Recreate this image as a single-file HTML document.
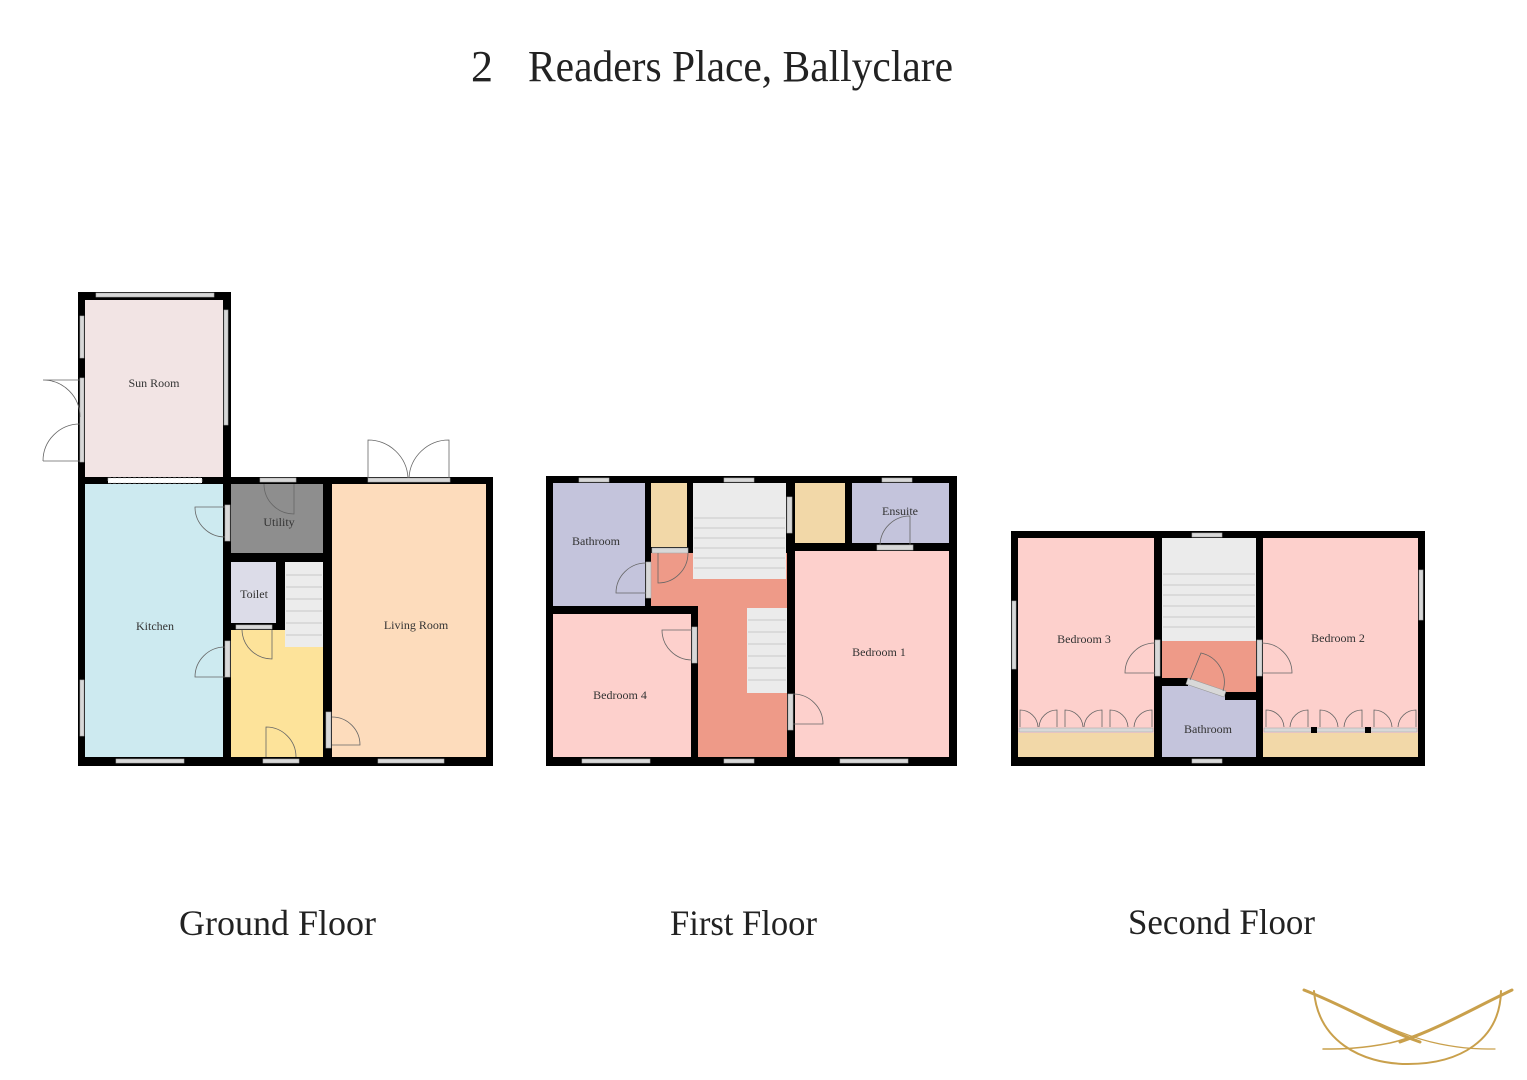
<!DOCTYPE html>
<html><head><meta charset="utf-8"><style>
html,body{margin:0;padding:0;background:#fff;width:1527px;height:1080px;overflow:hidden}
svg{display:block}
text{font-family:"Liberation Serif",serif;fill:#222}
.rl{font-size:12px;fill:#333;text-anchor:middle}
.w{fill:#d8d8d8;stroke:#aaa;stroke-width:0.6}
.d{fill:none;stroke:#666;stroke-width:0.8}
.st{stroke:#c8c8c8;stroke-width:1}
</style></head><body>
<svg width="1527" height="1080" viewBox="0 0 1527 1080" xmlns="http://www.w3.org/2000/svg">
<text x="471" y="81" font-size="44" textLength="22" lengthAdjust="spacingAndGlyphs">2</text>
<text x="528" y="81" font-size="44" textLength="425" lengthAdjust="spacingAndGlyphs">Readers Place, Ballyclare</text>

<!-- ================= GROUND FLOOR ================= -->
<rect x="78" y="292" width="153" height="192" fill="#000"/>
<rect x="78" y="477" width="415" height="289" fill="#000"/>
<rect x="85" y="300" width="138" height="177" fill="#f2e4e4"/>
<rect x="85" y="484" width="138" height="273" fill="#cdeaf0"/>
<rect x="231" y="484" width="92" height="69" fill="#8e8e8e"/>
<rect x="231" y="562" width="45" height="61" fill="#dcdce8"/>
<rect x="231" y="630" width="92" height="127" fill="#fde39a"/>
<rect x="285" y="562" width="38" height="85" fill="#ececec"/>
<g class="st"><line x1="286" y1="575" x2="322" y2="575"/><line x1="286" y1="587" x2="322" y2="587"/><line x1="286" y1="599" x2="322" y2="599"/><line x1="286" y1="611" x2="322" y2="611"/><line x1="286" y1="623" x2="322" y2="623"/><line x1="286" y1="635" x2="322" y2="635"/></g>
<rect x="332" y="484" width="154" height="273" fill="#fddcbc"/>
<!-- windows -->
<rect class="w" x="96" y="293" width="118" height="4"/>
<rect class="w" x="224" y="310" width="4" height="115"/>
<rect class="w" x="80" y="316" width="4" height="42"/>
<rect class="w" x="80" y="378" width="4" height="84"/>
<rect x="108" y="478" width="94" height="5" fill="#fff" stroke="#bbb" stroke-width="0.6" stroke-dasharray="3,2"/>
<rect class="w" x="80" y="680" width="4" height="56"/>
<rect class="w" x="116" y="759" width="68" height="4"/>
<rect class="w" x="263" y="759" width="36" height="4"/>
<rect class="w" x="378" y="759" width="66" height="4"/>
<rect class="w" x="368" y="478" width="82" height="4"/>
<rect class="w" x="260" y="478" width="36" height="4"/>
<rect class="w" x="225" y="505" width="5" height="36"/>
<rect class="w" x="225" y="641" width="5" height="36"/>
<rect class="w" x="326" y="712" width="5" height="36"/>
<rect class="w" x="236" y="625" width="36" height="4"/>
<!-- doors -->
<path class="d" d="M43 380 A37 37 0 0 1 80 417 M43 380 L80 380 M43 461 A37 37 0 0 1 80 424 M43 461 L80 461"/>
<path class="d" d="M368 478 L368 440 A40 40 0 0 1 408 478 M449 478 L449 440 A40 40 0 0 0 409 478"/>
<path class="d" d="M294 484 L294 514 A30 30 0 0 1 264 484"/>
<path class="d" d="M225 507 L195 507 A30 30 0 0 0 225 537"/>
<path class="d" d="M225 677 L195 677 A30 30 0 0 1 225 647"/>
<path class="d" d="M272 630 L272 659 A30 30 0 0 1 242 630"/>
<path class="d" d="M266 757 L266 727 A30 30 0 0 1 296 757"/>
<path class="d" d="M332 745 L360 745 A28 28 0 0 0 332 717"/>
<text class="rl" x="154" y="387">Sun Room</text>
<text class="rl" x="155" y="630">Kitchen</text>
<text class="rl" x="279" y="526">Utility</text>
<text class="rl" x="254" y="598">Toilet</text>
<text class="rl" x="416" y="629">Living Room</text>

<!-- ================= FIRST FLOOR ================= -->
<rect x="546" y="476" width="411" height="290" fill="#000"/>
<rect x="553" y="483" width="92" height="123" fill="#c4c4dc"/>
<rect x="651" y="483" width="36" height="64" fill="#f2d8a8"/>
<rect x="693" y="483" width="93" height="96" fill="#ebebeb"/>
<rect x="795" y="483" width="50" height="60" fill="#f2d8a8"/>
<rect x="852" y="483" width="97" height="60" fill="#c4c4dc"/>
<rect x="651" y="553" width="136" height="53" fill="#ee9a88"/>
<rect x="693" y="483" width="93" height="96" fill="#ebebeb"/>
<rect x="698" y="606" width="89" height="151" fill="#ee9a88"/>
<rect x="747" y="608" width="40" height="85" fill="#ebebeb"/>
<g class="st"><line x1="694" y1="518" x2="785" y2="518"/><line x1="694" y1="528" x2="785" y2="528"/><line x1="694" y1="538" x2="785" y2="538"/><line x1="694" y1="548" x2="785" y2="548"/><line x1="694" y1="558" x2="785" y2="558"/><line x1="694" y1="568" x2="785" y2="568"/>
<line x1="748" y1="620" x2="786" y2="620" /><line x1="748" y1="632" x2="786" y2="632"/><line x1="748" y1="644" x2="786" y2="644"/><line x1="748" y1="656" x2="786" y2="656"/><line x1="748" y1="668" x2="786" y2="668"/><line x1="748" y1="680" x2="786" y2="680"/></g>
<rect x="553" y="614" width="138" height="143" fill="#fdd0cc"/>
<rect x="795" y="551" width="154" height="206" fill="#fdd0cc"/>
<rect class="w" x="579" y="478" width="30" height="4"/>
<rect class="w" x="724" y="478" width="30" height="4"/>
<rect class="w" x="882" y="478" width="30" height="4"/>
<rect class="w" x="582" y="759" width="68" height="4"/>
<rect class="w" x="724" y="759" width="30" height="4"/>
<rect class="w" x="840" y="759" width="68" height="4"/>
<rect class="w" x="787" y="497" width="5" height="36"/>
<rect class="w" x="652" y="548" width="36" height="5"/>
<rect class="w" x="646" y="562" width="5" height="36"/>
<rect class="w" x="692" y="627" width="5" height="36"/>
<rect class="w" x="788" y="694" width="5" height="36"/>
<rect class="w" x="877" y="545" width="36" height="5"/>
<path class="d" d="M646 563 A30 30 0 0 0 616 593 L646 593"/>
<path class="d" d="M688 553 A30 30 0 0 1 658 583 L658 553"/>
<path class="d" d="M692 630 L662 630 A30 30 0 0 0 692 660"/>
<path class="d" d="M793 694 A30 30 0 0 1 823 724 L793 724"/>
<path class="d" d="M910 545 L910 516 A30 30 0 0 0 880 545"/>
<text class="rl" x="596" y="545">Bathroom</text>
<text class="rl" x="900" y="515">Ensuite</text>
<text class="rl" x="620" y="699">Bedroom 4</text>
<text class="rl" x="879" y="656">Bedroom 1</text>

<!-- ================= SECOND FLOOR ================= -->
<rect x="1011" y="531" width="414" height="235" fill="#000"/>
<rect x="1018" y="538" width="136" height="219" fill="#fdd0cc"/>
<rect x="1018" y="733" width="136" height="24" fill="#f2d8a8"/>
<rect x="1162" y="538" width="94" height="103" fill="#ebebeb"/>
<g class="st"><line x1="1163" y1="574" x2="1255" y2="574"/><line x1="1163" y1="585" x2="1255" y2="585"/><line x1="1163" y1="595" x2="1255" y2="595"/><line x1="1163" y1="606" x2="1255" y2="606"/><line x1="1163" y1="617" x2="1255" y2="617"/><line x1="1163" y1="627" x2="1255" y2="627"/></g>
<rect x="1162" y="681" width="94" height="76" fill="#c4c4dc"/>
<polygon points="1162,641 1256,641 1256,693 1225,693 1188,681 1162,681" fill="#ee9a88"/>
<rect x="1162" y="678" width="26" height="8" fill="#000"/>
<rect x="1225" y="692" width="31" height="8" fill="#000"/>
<polygon points="1188,678 1226,691 1224,697 1186,684" fill="#d8d8d8" stroke="#999" stroke-width="0.6"/>
<rect x="1263" y="538" width="155" height="219" fill="#fdd0cc"/>
<rect x="1263" y="733" width="155" height="24" fill="#f2d8a8"/>
<rect class="w" x="1019" y="728" width="134" height="4"/>
<rect class="w" x="1264" y="728" width="153" height="4"/>
<rect x="1311" y="727" width="6" height="6" fill="#000"/>
<rect x="1365" y="727" width="6" height="6" fill="#000"/>
<rect class="w" x="1192" y="533" width="30" height="4"/>
<rect class="w" x="1192" y="759" width="30" height="4"/>
<rect class="w" x="1012" y="601" width="4" height="68"/>
<rect class="w" x="1419" y="570" width="4" height="50"/>
<rect class="w" x="1155" y="640" width="5" height="36"/>
<rect class="w" x="1257" y="640" width="5" height="36"/>
<path class="d" d="M1155 643 A30 30 0 0 0 1125 673 L1155 673"/>
<path class="d" d="M1262 643 A30 30 0 0 1 1292 673 L1262 673"/>
<path class="d" d="M1190 680 L1201 653 A30 30 0 0 1 1223 691"/>
<g class="d">
<path d="M1020 727 L1020 710 A18 18 0 0 1 1038 727 M1057 727 L1057 710 A18 18 0 0 0 1039 727"/>
<path d="M1065 727 L1065 710 A18 18 0 0 1 1083 727 M1102 727 L1102 710 A18 18 0 0 0 1084 727"/>
<path d="M1110 727 L1110 710 A18 18 0 0 1 1128 727 M1152 727 L1152 710 A18 18 0 0 0 1134 727"/>
<path d="M1266 727 L1266 710 A18 18 0 0 1 1284 727 M1308 727 L1308 710 A18 18 0 0 0 1290 727"/>
<path d="M1320 727 L1320 710 A18 18 0 0 1 1338 727 M1362 727 L1362 710 A18 18 0 0 0 1344 727"/>
<path d="M1374 727 L1374 710 A18 18 0 0 1 1392 727 M1416 727 L1416 710 A18 18 0 0 0 1398 727"/>
</g>
<text class="rl" x="1084" y="643">Bedroom 3</text>
<text class="rl" x="1338" y="642">Bedroom 2</text>
<text class="rl" x="1208" y="733">Bathroom</text>

<!-- floor labels -->
<text x="179" y="935" font-size="36" textLength="197" lengthAdjust="spacingAndGlyphs">Ground Floor</text>
<text x="670" y="935" font-size="36" textLength="147" lengthAdjust="spacingAndGlyphs">First Floor</text>
<text x="1128" y="934" font-size="36" textLength="187" lengthAdjust="spacingAndGlyphs">Second Floor</text>

<!-- logo -->
<g fill="none" stroke="#c9a04c" stroke-linecap="round">
<path d="M1304 990 C1360 1012 1395 1035 1440 1044 C1465 1049 1480 1049 1495 1049" stroke-width="1.2"/>
<path d="M1304 990 C1350 1008 1380 1028 1420 1042" stroke-width="3"/>
<path d="M1512 990 C1460 1015 1425 1035 1390 1043 C1360 1049 1340 1049 1323 1049" stroke-width="1.5"/>
<path d="M1512 990 C1470 1010 1440 1028 1400 1042" stroke-width="3"/>
<path d="M1314 991 C1318 1040 1360 1064 1408 1064 C1460 1064 1500 1040 1501 991" stroke-width="2"/>
</g>
</svg>
</body></html>
